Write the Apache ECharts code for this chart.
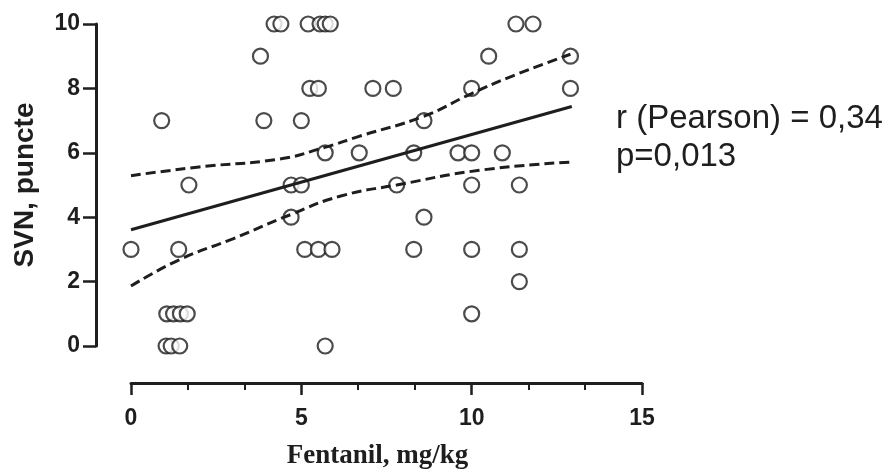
<!DOCTYPE html>
<html>
<head>
<meta charset="utf-8">
<script src="https://cdn.jsdelivr.net/npm/echarts@6/dist/echarts.min.js"></script>
<style>
  html, body { margin: 0; padding: 0; background: #fff; }
  #chart { width: 895px; height: 475px; }
</style>
</head>
<body>
<div id="chart"></div>
<script>
// fentanil dose (x) and SVN score (y)
const pointsX = [
  4.2, 4.4, 5.2, 5.55, 5.7, 5.85, 11.3, 11.8,
  3.8, 10.5, 12.9,
  5.25, 5.5, 7.1, 7.7, 10.0, 12.9,
  0.9, 3.9, 5.0, 8.6,
  5.7, 6.7, 8.3, 9.6, 10.0, 10.9,
  1.7, 4.7, 5.0, 7.8, 10.0, 11.4,
  4.7, 8.6,
  0, 1.4, 5.1, 5.5, 5.9, 8.3, 10.0, 11.4,
  11.4,
  1.05, 1.25, 1.45, 1.65, 10.0,
  1.03, 1.18, 1.43, 5.7
]
const pointsY = [
  10, 10, 10, 10, 10, 10, 10, 10,
  9, 9, 9,
  8, 8, 8, 8, 8, 8,
  7, 7, 7, 7,
  6, 6, 6, 6, 6, 6,
  5, 5, 5, 5, 5, 5,
  4, 4,
  3, 3, 3, 3, 3, 3, 3, 3,
  2,
  1, 1, 1, 1, 1,
  0, 0, 0, 0
]

// regression line and 95% band
const fitX = [0, 12.94]
const fitY = [3.61, 7.44]
const upperX = [0, 2, 4.37, 5.69, 6.72, 8.58, 10.0, 11.23, 12.9]
const upperY = [5.29, 5.56, 5.81, 6.17, 6.52, 7.13, 7.84, 8.40, 9.06]
const lowerX = [0, 1.4, 2.99, 4.71, 6.13, 7.8, 10.25, 12.9]
const lowerY = [1.86, 2.67, 3.33, 4.09, 4.65, 5.0, 5.46, 5.71]

const xTicks = { min: 0, max: 15, interval: 5 }
const yTicks = { min: 0, max: 10, interval: 2 }

const zip = (xs, ys) => xs.map((x, i) => [x, ys[i]])

const ink = '#1e1e1e'
const dashed = [10, 5]

const chart = echarts.init(document.getElementById('chart'))
chart.setOption({
  backgroundColor: '#fff',
  animation: false,
  grid: {
    left: 131,
    right: 253,
    top: 24,
    bottom: 122
  },
  xAxis: {
    type: 'value',
    min: xTicks.min,
    max: xTicks.max,
    interval: xTicks.interval,
    offset: 37,
    name: 'Fentanil, mg/kg',
    nameLocation: 'middle',
    nameGap: 60,
    nameTextStyle: {
      fontFamily: 'Liberation Serif',
      fontWeight: 'bold',
      fontSize: 27,
      color: ink,
      padding: [0, 18, 0, 0]
    },
    axisLine: { onZero: false, lineStyle: { color: ink, width: 3 } },
    axisTick: { length: 12, lineStyle: { color: ink, width: 2.5 } },
    minorTick: { show: true, splitNumber: 3, length: 7, lineStyle: { color: ink, width: 2 } },
    axisLabel: {
      margin: 24,
      fontFamily: 'Liberation Sans',
      fontWeight: 'bold',
      fontSize: 23,
      color: ink
    },
    splitLine: { show: false }
  },
  yAxis: {
    type: 'value',
    min: yTicks.min,
    max: yTicks.max,
    interval: yTicks.interval,
    offset: 35,
    name: 'SVN, puncte',
    nameLocation: 'middle',
    nameGap: 57,
    nameTextStyle: {
      fontFamily: 'Liberation Sans',
      fontWeight: 'bold',
      fontSize: 28,
      color: ink
    },
    axisLine: { onZero: false, lineStyle: { color: ink, width: 3 } },
    axisTick: { length: 13, lineStyle: { color: ink, width: 2.5 } },
    axisLabel: {
      margin: 16,
      fontFamily: 'Liberation Sans',
      fontWeight: 'bold',
      fontSize: 23,
      color: ink
    },
    splitLine: { show: false }
  },
  graphic: [{
    type: 'text',
    left: 616,
    top: 100,
    style: {
      text: 'r (Pearson) = 0,34\np=0,013',
      font: '33px "Liberation Sans"',
      lineHeight: 38,
      fill: ink
    }
  }],
  series: [{
    type: 'line',
    data: zip(upperX, upperY),
    smooth: true,
    showSymbol: false,
    lineStyle: { color: ink, width: 3, type: dashed },
    z: 3
  }, {
    type: 'line',
    data: zip(lowerX, lowerY),
    smooth: true,
    showSymbol: false,
    lineStyle: { color: ink, width: 3, type: dashed },
    z: 3
  }, {
    type: 'line',
    data: zip(fitX, fitY),
    showSymbol: false,
    lineStyle: { color: ink, width: 3 },
    z: 3
  }, {
    type: 'scatter',
    data: zip(pointsX, pointsY),
    symbol: 'circle',
    symbolSize: 15,
    itemStyle: { color: '#fff', borderColor: ink, borderWidth: 2.2 },
    z: 2
  }]
})
</script>
</body>
</html>
